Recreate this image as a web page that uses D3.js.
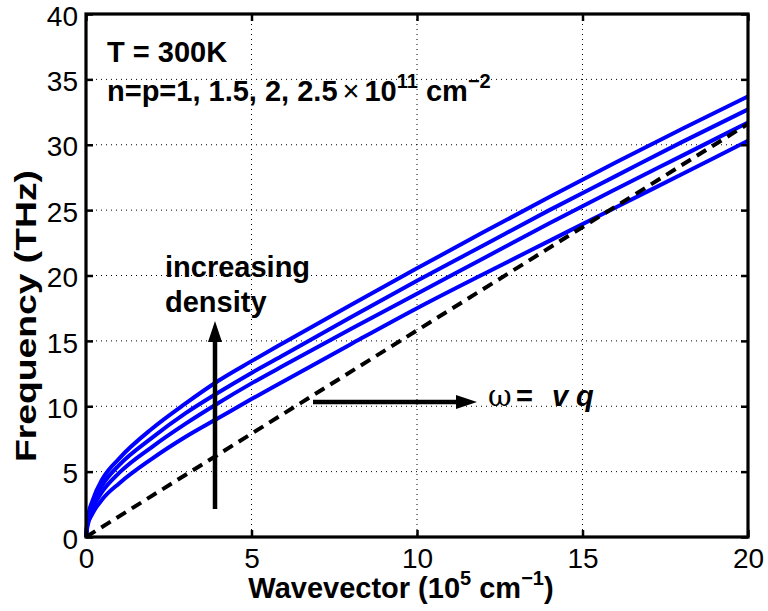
<!DOCTYPE html>
<html><head><meta charset="utf-8">
<script src="https://cdn.jsdelivr.net/npm/d3@7"></script>
<style>
html,body{margin:0;padding:0;background:#fff;}
text{font-family:"Liberation Sans",Arial,Helvetica,sans-serif;}
</style></head>
<body><svg id="c" width="768" height="611"></svg>
<script>
// ---- data ----
const wavevector = [0, 0.05, 0.2, 0.5, 1, 2, 3, 4, 5, 6, 8, 10, 12, 14, 16, 18, 20];
const density1 = [0, 0.9, 1.8, 2.9, 4.1, 6.0, 7.65, 9.1, 10.55, 11.95, 14.75, 17.5, 20.1, 22.65, 25.2, 27.75, 30.3];
const density15 = [0, 1.1, 2.2, 3.5, 4.9, 6.9, 8.65, 10.25, 11.75, 13.15, 15.9, 18.6, 21.3, 24.0, 26.6, 29.15, 31.7];
const density2 = [0, 1.25, 2.55, 4.0, 5.5, 7.6, 9.45, 11.05, 12.55, 13.95, 16.8, 19.6, 22.3, 25.0, 27.6, 30.2, 32.7];
const density25 = [0, 1.4, 2.8, 4.45, 6.0, 8.3, 10.2, 11.95, 13.45, 14.9, 17.75, 20.55, 23.3, 26.0, 28.65, 31.2, 33.7];
const lightLineQ = [0, 20];
const lightLineF = [0, 31.6];
const xTicks = [0, 5, 10, 15, 20];
const yTicks = [0, 5, 10, 15, 20, 25, 30, 35, 40];

const svg = d3.select("#c");
const L = 86, R = 748, T = 14, B = 537;
const x = d3.scaleLinear().domain([0, 20]).range([L, R]);
const y = d3.scaleLinear().domain([0, 40]).range([B, T]);

// grid
const g = svg.append("g");
g.selectAll(".gx").data(xTicks.slice(1, -1)).enter().append("line")
  .attr("x1", d => x(d)).attr("x2", d => x(d)).attr("y1", T).attr("y2", B)
  .attr("stroke", "#000").attr("stroke-width", 1).attr("stroke-dasharray", "1,4");
g.selectAll(".gy").data(yTicks.slice(1, -1)).enter().append("line")
  .attr("y1", d => y(d)).attr("y2", d => y(d)).attr("x1", L).attr("x2", R)
  .attr("stroke", "#000").attr("stroke-width", 1).attr("stroke-dasharray", "1,4");

// curves
const line = d3.line().x(d => x(d[0])).y(d => y(d[1])).curve(d3.curveMonotoneX);
[density1, density15, density2, density25].forEach(s => {
  svg.append("path").datum(wavevector.map((q, i) => [q, s[i]]))
    .attr("d", line).attr("fill", "none").attr("stroke", "#0000ff").attr("stroke-width", 4);
});
svg.append("path").datum(lightLineQ.map((q, i) => [q, lightLineF[i]]))
  .attr("d", d3.line().x(d => x(d[0])).y(d => y(d[1])))
  .attr("fill", "none").attr("stroke", "#000").attr("stroke-width", 4)
  .attr("stroke-dasharray", "11,7");

// axes
const ax = svg.append("g").attr("transform", `translate(0,${B})`)
  .call(d3.axisBottom(x).tickValues(xTicks).tickSize(-7).tickPadding(11));
const axT = svg.append("g").attr("transform", `translate(0,${T})`)
  .call(d3.axisTop(x).tickValues(xTicks).tickSize(-7).tickFormat(""));
const ay = svg.append("g").attr("transform", `translate(${L},0)`)
  .call(d3.axisLeft(y).tickValues(yTicks).tickSize(-7).tickPadding(8));
const ayR = svg.append("g").attr("transform", `translate(${R},0)`)
  .call(d3.axisRight(y).tickValues(yTicks).tickSize(-7).tickFormat(""));
[ax, axT, ay, ayR].forEach(a => {
  a.select(".domain").remove();
  a.selectAll(".tick line").attr("stroke", "#000").attr("stroke-width", 2.5);
  a.selectAll("text").attr("font-size", 28).attr("fill", "#000")
    .attr("font-family", "Liberation Sans, Arial, sans-serif");
});
ax.selectAll("text").attr("dy", "0.71em");
ay.selectAll("text").attr("dy", "0.4em");
svg.append("rect").attr("x", L).attr("y", T).attr("width", R - L).attr("height", B - T)
  .attr("fill", "none").attr("stroke", "#000").attr("stroke-width", 3.2);

// axis labels
const xl = svg.append("text").attr("x", 401).attr("y", 598).attr("text-anchor", "middle")
  .attr("font-size", 29).attr("font-weight", "bold");
xl.append("tspan").text("Wavevector (10");
xl.append("tspan").attr("font-size", 20).attr("dy", -13).text("5");
xl.append("tspan").attr("dy", 13).text(" cm");
xl.append("tspan").attr("font-size", 20).attr("dy", -13).text("\u22121");
xl.append("tspan").attr("dy", 13).text(")");

svg.append("text").attr("transform", "translate(36,316) rotate(-90)")
  .attr("text-anchor", "middle").attr("font-size", 29).attr("font-weight", "bold")
  .attr("textLength", 292).attr("lengthAdjust", "spacingAndGlyphs")
  .text("Frequency (THz)");

// annotations
svg.append("text").attr("x", 107).attr("y", 62).attr("font-size", 29).attr("font-weight", "bold")
  .text("T = 300K");
const n = svg.append("text").attr("x", 107).attr("y", 101).attr("font-size", 29).attr("font-weight", "bold");
n.append("tspan").text("n=p=1, 1.5, 2, 2.5");
n.append("tspan").attr("font-weight", "normal").attr("dx", 5).text("\u00d7");
n.append("tspan").attr("dx", 5).text("10");
n.append("tspan").attr("font-size", 20).attr("dy", -13).text("11");
n.append("tspan").attr("dy", 13).text(" cm");
n.append("tspan").attr("font-size", 20).attr("dy", -13).text("\u22122");

svg.append("text").attr("x", 165).attr("y", 277).attr("font-size", 29).attr("font-weight", "bold").text("increasing");
svg.append("text").attr("x", 165).attr("y", 312).attr("font-size", 29).attr("font-weight", "bold").text("density");

// arrows
svg.append("line").attr("x1", 215).attr("x2", 215).attr("y1", 509).attr("y2", 338)
  .attr("stroke", "#000").attr("stroke-width", 4.5);
svg.append("path").attr("d", "M215,321 L208,342 L222,342 Z").attr("fill", "#000");
svg.append("line").attr("x1", 313).attr("x2", 460).attr("y1", 402).attr("y2", 402)
  .attr("stroke", "#000").attr("stroke-width", 4.5);
svg.append("path").attr("d", "M477,402 L456,395 L456,409 Z").attr("fill", "#000");

const w = svg.append("text").attr("x", 488).attr("y", 406).attr("font-size", 29);
w.append("tspan").attr("font-family", "DejaVu Serif, serif").text("\u03c9");
w.append("tspan").attr("x", 516).attr("font-weight", "bold").text("=");
w.append("tspan").attr("x", 552).attr("font-weight", "bold").attr("font-style", "italic").text("v");
w.append("tspan").attr("x", 576).attr("font-weight", "bold").attr("font-style", "italic").text("q");
</script></body></html>
